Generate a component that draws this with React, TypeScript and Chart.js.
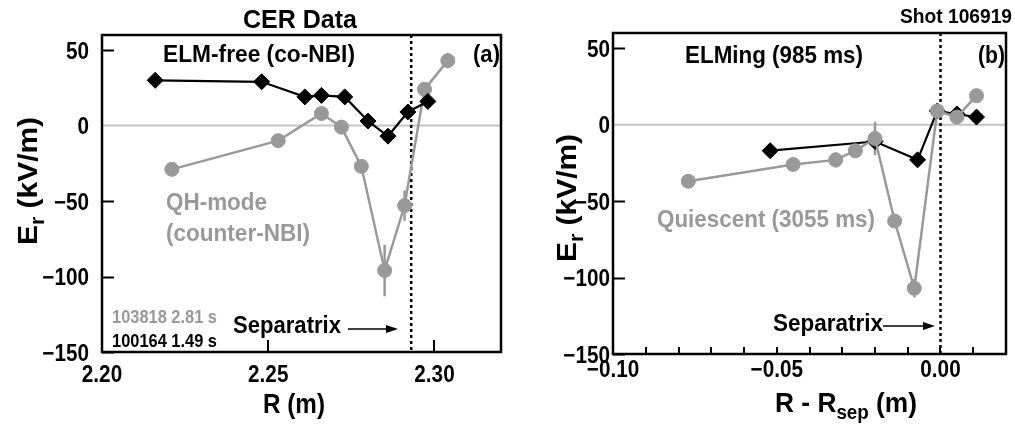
import React, { useEffect, useRef } from 'react';
import { Chart, registerables } from 'chart.js';

Chart.register(...registerables);

const FONT = '"Liberation Sans Narrow", "Arial Narrow", "Liberation Sans", Arial, sans-serif';
const GRAY = '#999999';
const ZERO_GRAY = '#c4c4c4';

// ---------- Panel (a): CER data vs R ----------
const elmFreeR = [2.216, 2.248, 2.261, 2.266, 2.273, 2.280, 2.286, 2.292, 2.298];
const elmFreeEr = [30, 29, 19, 20, 19, 3, -7, 9, 16];
const qhR = [2.221, 2.253, 2.266, 2.272, 2.278, 2.285, 2.291, 2.297, 2.304];
const qhEr = [-29, -10, 8, -1, -27, -96, -53, 24, 43];
const qhErr = [0, 0, 0, 0, 0, 17, 10, 0, 5];
const separatrixA = 2.293;
const xTicksA = [2.2, 2.25, 2.3];
const xLabelsA = [2.2, 2.25, 2.3];

// ---------- Panel (b): vs R - Rsep ----------
const elmingDR = [-0.052, -0.020, -0.007, -0.001, 0.005, 0.011];
const elmingEr = [-17, -11, -23, 9, 7, 5];
const quiescentDR = [-0.077, -0.045, -0.032, -0.026, -0.020, -0.014, -0.008, -0.001, 0.005, 0.011];
const quiescentEr = [-37, -26, -23, -17, -9, -63, -107, 9, 5, 19];
const quiescentErr = [0, 0, 5, 0, 11, 0, 6, 0, 0, 0];
const separatrixB = 0;
const xTicksB = [-0.1, -0.09, -0.08, -0.07, -0.06, -0.05, -0.04, -0.03, -0.02, -0.01, 0, 0.01, 0.02];
const xLabelsB = [-0.1, -0.05, 0];

// ---------- shared ----------
const yTicks = [-150, -100, -50, 0, 50];
const yMin = -150;
const yMax = 60;

const TICK_SIZE = 23;
const TICK_SQUEEZE = 0.9;

type Seg = { t: string; size: number; dy?: number };

function drawSegs(
  ctx: CanvasRenderingContext2D,
  segs: Seg[],
  x: number,
  y: number,
  color: string,
  width?: number,
  align: 'left' | 'center' | 'right' = 'left',
  squeeze?: number
) {
  ctx.save();
  ctx.fillStyle = color;
  ctx.textBaseline = 'alphabetic';
  ctx.textAlign = 'left';
  const ws: number[] = [];
  let total = 0;
  for (const s of segs) {
    ctx.font = `bold ${s.size}px ${FONT}`;
    const w = ctx.measureText(s.t).width;
    ws.push(w);
    total += w;
  }
  const k = width ? width / total : squeeze || 1;
  const tw = total * k;
  const x0 = align === 'left' ? x : align === 'right' ? x - tw : x - tw / 2;
  ctx.translate(x0, y);
  ctx.scale(k, 1);
  let cx = 0;
  segs.forEach((s, i) => {
    ctx.font = `bold ${s.size}px ${FONT}`;
    ctx.fillText(s.t, cx, s.dy || 0);
    cx += ws[i];
  });
  ctx.restore();
}

function arrow(ctx: CanvasRenderingContext2D, x1: number, x2: number, y: number) {
  ctx.save();
  ctx.strokeStyle = '#000';
  ctx.fillStyle = '#000';
  ctx.lineWidth = 1.6;
  ctx.beginPath();
  ctx.moveTo(x1, y);
  ctx.lineTo(x2 - 9, y);
  ctx.stroke();
  ctx.beginPath();
  ctx.moveTo(x2, y);
  ctx.lineTo(x2 - 12, y - 4);
  ctx.lineTo(x2 - 12, y + 4);
  ctx.closePath();
  ctx.fill();
  ctx.restore();
}

function fmtMinus(s: string) {
  return s.replace('-', '\u2212');
}

const panelPlugin = {
  id: 'panelDecor',
  beforeDatasetsDraw(chart: any) {
    const spec = chart.options.plugins.panelDecor;
    const { ctx, chartArea: a } = chart;
    const xs = chart.scales.x;
    const ys = chart.scales.y;
    ctx.save();
    // inward ticks
    ctx.strokeStyle = '#000';
    ctx.lineWidth = 2;
    ctx.beginPath();
    for (const t of ys.ticks) {
      if (t.value === 0) continue;
      const py = Math.round(ys.getPixelForValue(t.value)) + 0.5;
      ctx.moveTo(a.left, py);
      ctx.lineTo(a.left + 12, py);
    }
    for (const t of xs.ticks) {
      const px = Math.round(xs.getPixelForValue(t.value));
      ctx.moveTo(px, a.bottom);
      ctx.lineTo(px, a.bottom - spec.xTickLen);
    }
    ctx.stroke();
    // zero line
    const y0 = ys.getPixelForValue(0);
    ctx.strokeStyle = ZERO_GRAY;
    ctx.lineWidth = 2;
    ctx.beginPath();
    ctx.moveTo(a.left, y0);
    ctx.lineTo(a.right, y0);
    ctx.stroke();
    // separatrix
    const sx = xs.getPixelForValue(spec.separatrix);
    ctx.strokeStyle = '#000';
    ctx.lineWidth = 2.5;
    ctx.setLineDash([3, 3]);
    ctx.beginPath();
    ctx.moveTo(sx, a.top);
    ctx.lineTo(sx, a.bottom);
    ctx.stroke();
    ctx.setLineDash([]);
    // error bars
    ctx.strokeStyle = GRAY;
    ctx.lineWidth = 2.5;
    ctx.beginPath();
    spec.errX.forEach((x: number, i: number) => {
      const e = spec.errE[i];
      if (!e) return;
      const px = xs.getPixelForValue(x);
      ctx.moveTo(px, ys.getPixelForValue(spec.errY[i] + e));
      ctx.lineTo(px, ys.getPixelForValue(spec.errY[i] - e));
    });
    ctx.stroke();
    ctx.restore();
  },
  afterDraw(chart: any) {
    const spec = chart.options.plugins.panelDecor;
    const { ctx, chartArea: a } = chart;
    const xs = chart.scales.x;
    const ys = chart.scales.y;
    ctx.save();
    ctx.strokeStyle = '#000';
    ctx.lineWidth = 2.5;
    ctx.strokeRect(a.left, a.top, a.right - a.left, a.bottom - a.top);
    ctx.restore();
    // tick labels from the scales
    for (const t of ys.ticks) {
      const py = ys.getPixelForValue(t.value);
      drawSegs(ctx, [{ t: fmtMinus(String(t.value)), size: TICK_SIZE }], a.left - spec.yPad, py + 8.5, '#000', undefined, 'right', TICK_SQUEEZE);
    }
    for (const t of xs.ticks) {
      if (!spec.xLabels.some((l: number) => Math.abs(l - t.value) < 1e-9)) continue;
      const px = xs.getPixelForValue(t.value);
      drawSegs(ctx, [{ t: fmtMinus(Number(t.value).toFixed(2)), size: TICK_SIZE }], px, a.bottom + spec.xLabelDy, '#000', undefined, 'center', TICK_SQUEEZE);
    }
    spec.texts.forEach((t: any) => drawSegs(ctx, t.segs, t.x, t.y, t.color, t.w, t.align));
    // y title rotated
    ctx.save();
    ctx.translate(spec.yTitle.x, spec.yTitle.y);
    ctx.rotate(-Math.PI / 2);
    drawSegs(ctx, [{ t: 'E', size: 28 }, { t: 'r', size: 20, dy: 7 }, { t: ' (kV/m)', size: 28 }], 0, 0, '#000', spec.yTitle.w, 'left');
    ctx.restore();
    arrow(ctx, spec.arrow[0], spec.arrow[1], spec.arrow[2]);
  },
};

function buildChart(canvas: HTMLCanvasElement, spec: any) {
  return new Chart(canvas, {
    type: 'line',
    data: { datasets: spec.datasets },
    options: {
      responsive: false,
      animation: false,
      devicePixelRatio: 1,
      layout: { padding: { top: spec.area.top, right: spec.W - spec.area.right, left: 0, bottom: 0 } },
      plugins: {
        legend: { display: false },
        tooltip: { enabled: false },
        panelDecor: spec,
      } as any,
      elements: { line: { tension: 0 } },
      scales: {
        x: {
          type: 'linear',
          min: spec.xMin,
          max: spec.xMax,
          grid: { display: false, drawTicks: false },
          border: { display: false },
          ticks: { display: false },
          afterBuildTicks: (s: any) => {
            s.ticks = spec.xTicks.map((v: number) => ({ value: v }));
          },
          afterFit: (s: any) => {
            s.height = spec.H - spec.area.bottom;
          },
        },
        y: {
          type: 'linear',
          min: yMin,
          max: yMax,
          grid: { display: false, drawTicks: false },
          border: { display: false },
          ticks: { display: false },
          afterBuildTicks: (s: any) => {
            s.ticks = yTicks.map((v) => ({ value: v }));
          },
          afterFit: (s: any) => {
            s.width = spec.area.left;
          },
        },
      },
    } as any,
    plugins: [panelPlugin as any],
  });
}

const pts = (xs: number[], ys: number[]) => xs.map((x, i) => ({ x, y: ys[i] }));

const blackStyle = {
  borderColor: '#000',
  borderWidth: 2.2,
  pointStyle: 'rectRot',
  pointRadius: 8,
  pointBackgroundColor: '#000',
  pointBorderColor: '#000',
  pointBorderWidth: 1,
};
const grayStyle = {
  borderColor: GRAY,
  borderWidth: 2.5,
  pointStyle: 'circle',
  pointRadius: 7,
  pointBackgroundColor: GRAY,
  pointBorderColor: GRAY,
  pointBorderWidth: 1,
};

const specA = {
  W: 510,
  H: 427,
  area: { left: 102, right: 505, top: 35, bottom: 352 },
  xMin: 2.2,
  xMax: 2.32,
  xTicks: xTicksA,
  xLabels: xLabelsA,
  xTickLen: 12,
  xLabelDy: 30,
  yPad: 13,
  separatrix: separatrixA,
  errX: qhR,
  errY: qhEr,
  errE: qhErr,
  arrow: [348, 398, 329],
  yTitle: { x: 37, y: 245, w: 128 },
  datasets: [
    { label: 'ELM-free (co-NBI)', data: pts(elmFreeR, elmFreeEr), ...blackStyle, order: 0 },
    { label: 'QH-mode (counter-NBI)', data: pts(qhR, qhEr), ...grayStyle, order: 1 },
  ],
  texts: [
    { segs: [{ t: 'CER Data', size: 25 }], x: 300, y: 28, color: '#000', w: 114, align: 'center' },
    { segs: [{ t: 'ELM-free (co-NBI)', size: 24 }], x: 163, y: 62, color: '#000', w: 192, align: 'left' },
    { segs: [{ t: '(a)', size: 24 }], x: 473, y: 62, color: '#000', w: 27, align: 'left' },
    { segs: [{ t: 'QH-mode', size: 24 }], x: 166, y: 210, color: GRAY, w: 101, align: 'left' },
    { segs: [{ t: '(counter-NBI)', size: 24 }], x: 166, y: 241, color: GRAY, w: 144, align: 'left' },
    { segs: [{ t: '103818 2.81 s', size: 19 }], x: 112, y: 323, color: GRAY, w: 105, align: 'left' },
    { segs: [{ t: '100164 1.49 s', size: 19 }], x: 112, y: 347, color: '#000', w: 105, align: 'left' },
    { segs: [{ t: 'Separatrix', size: 24 }], x: 233, y: 333, color: '#000', w: 108, align: 'left' },
    { segs: [{ t: 'R (m)', size: 28 }], x: 263, y: 413, color: '#000', w: 62, align: 'left' },
  ],
};

const specB = {
  W: 505,
  H: 427,
  area: { left: 103, right: 503, top: 33, bottom: 354 },
  xMin: -0.1,
  xMax: 0.02,
  xTicks: xTicksB,
  xLabels: xLabelsB,
  xTickLen: 7,
  xLabelDy: 23,
  yPad: 3,
  separatrix: separatrixB,
  errX: quiescentDR,
  errY: quiescentEr,
  errE: quiescentErr,
  arrow: [373, 425, 326],
  yTitle: { x: 66, y: 262, w: 128 },
  datasets: [
    { label: 'Quiescent (3055 ms)', data: pts(quiescentDR, quiescentEr), ...grayStyle, order: 0 },
    { label: 'ELMing (985 ms)', data: pts(elmingDR, elmingEr), ...blackStyle, order: 1 },
  ],
  texts: [
    { segs: [{ t: 'Shot 106919', size: 20 }], x: 502, y: 23, color: '#000', w: 112, align: 'right' },
    { segs: [{ t: 'ELMing (985 ms)', size: 24 }], x: 175, y: 63, color: '#000', w: 178, align: 'left' },
    { segs: [{ t: '(b)', size: 24 }], x: 468, y: 63, color: '#000', w: 27, align: 'left' },
    { segs: [{ t: 'Quiescent (3055 ms)', size: 24 }], x: 147, y: 227, color: GRAY, w: 218, align: 'left' },
    { segs: [{ t: 'Separatrix', size: 24 }], x: 263, y: 331, color: '#000', w: 110, align: 'left' },
    {
      segs: [
        { t: 'R - R', size: 28 },
        { t: 'sep', size: 20, dy: 7 },
        { t: ' (m)', size: 28 },
      ],
      x: 265,
      y: 412,
      color: '#000',
      w: 142,
      align: 'left',
    },
  ],
};

export default function App() {
  const refA = useRef<HTMLCanvasElement>(null);
  const refB = useRef<HTMLCanvasElement>(null);
  useEffect(() => {
    const a = buildChart(refA.current!, specA);
    const b = buildChart(refB.current!, specB);
    return () => {
      a.destroy();
      b.destroy();
    };
  }, []);
  return (
    <div style={{ position: 'absolute', left: 0, top: 0, width: 1015, height: 427, background: '#fff' }}>
      <canvas ref={refA} width={510} height={427} style={{ position: 'absolute', left: 0, top: 0, width: 510, height: 427 }} />
      <canvas ref={refB} width={505} height={427} style={{ position: 'absolute', left: 510, top: 0, width: 505, height: 427 }} />
    </div>
  );
}
